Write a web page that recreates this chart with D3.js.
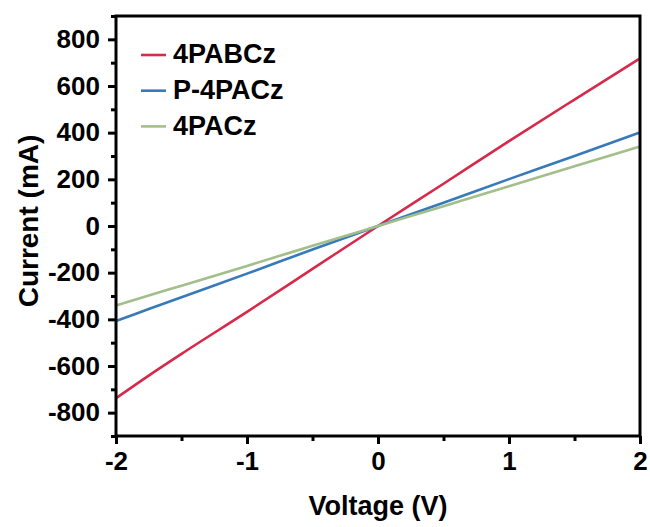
<!DOCTYPE html>
<html>
<head>
<meta charset="utf-8">
<style>
  body { margin: 0; background: #fff; }
  svg { font-family: "Liberation Sans", Arial, sans-serif; font-weight: bold; }
</style>
</head>
<body>
<div id="chart"></div>
<script src="https://d3js.org/d3.v7.min.js"></script>
<script>
// I-V curves
var voltage = [-2, -1.75, -1.5, -1, -0.5, 0, 0.5, 1, 1.5, 2];
var pabcz   = [-738, -641, -548, -368, -184, 0, 181, 364, 542, 718];
var p4pacz  = [-407, -356, -305, -204, -101, 0, 100, 201, 300, 401];
var pacz    = [-341, -298, -256, -171, -85, 0, 85, 170, 256, 341];

var seriesNames = ["4PABCz", "P-4PACz", "4PACz"];
var seriesColors = ["#d7294a", "#3879ba", "#a2bf8b"];
var seriesValues = [pabcz, p4pacz, pacz];

var xTicks = [-2, -1, 0, 1, 2];
var yTicks = [-800, -600, -400, -200, 0, 200, 400, 600, 800];

var W = 650, H = 527;
var margin = {top: 16, right: 10, bottom: 91, left: 116};
var width = 640 - margin.left, height = 436 - margin.top;

var svg = d3.select("#chart").append("svg")
    .attr("width", W).attr("height", H);

var g = svg.append("g")
    .attr("transform", "translate(" + margin.left + "," + margin.top + ")");

var x = d3.scaleLinear().domain([-2, 2]).range([0, width]);
var y = d3.scaleLinear().domain([-900, 900]).range([height, 0]);

// minor ticks
g.append("g")
    .attr("transform", "translate(0," + height + ")")
    .call(d3.axisBottom(x).tickValues(d3.range(-1.5, 2, 1)).tickSize(5).tickFormat(""))
    .call(function(s) { s.select(".domain").remove(); s.selectAll("line").attr("stroke-width", 3); });
g.append("g")
    .call(d3.axisLeft(y).tickValues(d3.range(-900, 901, 200)).tickSize(5).tickFormat(""))
    .call(function(s) { s.select(".domain").remove(); s.selectAll("line").attr("stroke-width", 3); });

// major axes
var xAxis = g.append("g")
    .attr("transform", "translate(0," + height + ")")
    .call(d3.axisBottom(x).tickValues(xTicks).tickSize(8).tickPadding(8).tickFormat(d3.format("d")));
var yAxis = g.append("g")
    .call(d3.axisLeft(y).tickValues(yTicks).tickSize(8).tickPadding(8));

[xAxis, yAxis].forEach(function(a) {
  a.select(".domain").remove();
  a.selectAll("line").attr("stroke", "#000").attr("stroke-width", 3);
  a.selectAll("text")
    .attr("fill", "#000")
    .style("font-size", "26px")
    .style("font-family", "'Liberation Sans', Arial, sans-serif")
    .style("font-weight", "bold")
    .text(function(d) { return d < 0 ? "-" + Math.abs(d) : d; });
});

// lines
var line = d3.line()
    .x(function(d) { return x(d[0]); })
    .y(function(d) { return y(d[1]); })
    .curve(d3.curveMonotoneX);

seriesValues.forEach(function(vals, i) {
  g.append("path")
    .datum(voltage.map(function(v, j) { return [v, vals[j]]; }))
    .attr("fill", "none")
    .attr("stroke", seriesColors[i])
    .attr("stroke-width", 2.6)
    .attr("d", line);
});

// frame
g.append("rect")
    .attr("width", width).attr("height", height)
    .attr("fill", "none").attr("stroke", "#000").attr("stroke-width", 3);

// legend
var legend = g.selectAll(".leg")
    .data(seriesNames)
    .enter().append("g")
    .attr("transform", function(d, i) { return "translate(25," + (39 + i * 35.7) + ")"; });
legend.append("line")
    .attr("x1", 0).attr("x2", 25)
    .attr("stroke", function(d, i) { return seriesColors[i]; })
    .attr("stroke-width", 2.6);
legend.append("text")
    .attr("x", 32).attr("dy", "0.3em")
    .style("font-size", "27px")
    .text(function(d) { return d; });

// axis titles
svg.append("text")
    .attr("x", margin.left + x(0)).attr("y", 515)
    .attr("text-anchor", "middle")
    .style("font-size", "27px")
    .text("Voltage (V)");
svg.append("text")
    .attr("transform", "translate(38,221) rotate(-90)")
    .attr("text-anchor", "middle")
    .style("font-size", "28px")
    .text("Current (mA)");
</script>
</body>
</html>
